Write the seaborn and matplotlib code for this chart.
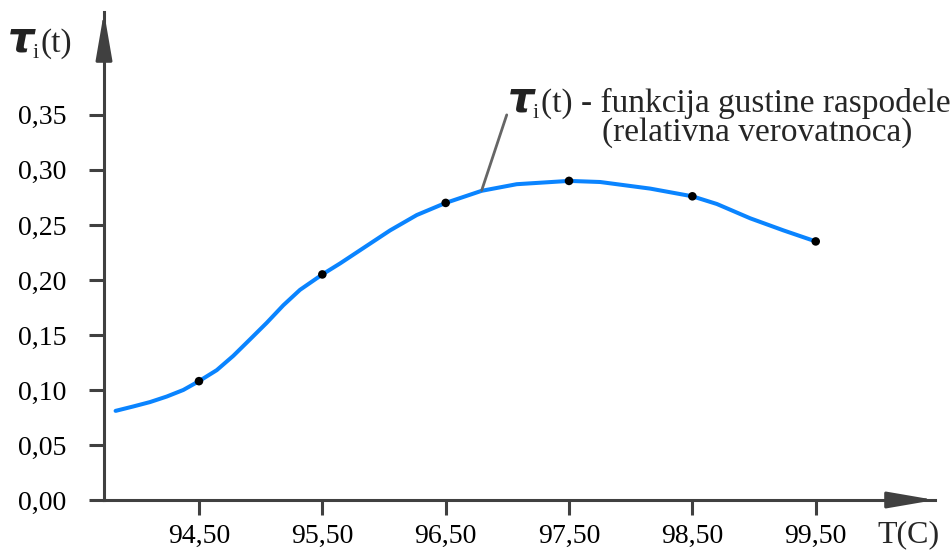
import matplotlib
matplotlib.use("Agg")
import matplotlib.pyplot as plt
import seaborn as sns

# measured points (temperature, relative probability)
temps = [94.5, 95.5, 96.5, 97.5, 98.5, 99.5]
density = [0.108, 0.205, 0.270, 0.290, 0.276, 0.235]

# smooth curve
curve_t = [93.824, 93.967, 94.103, 94.238, 94.373, 94.5, 94.644, 94.778, 94.914,
           95.049, 95.184, 95.319, 95.5, 95.644, 95.725, 96.049, 96.266, 96.5,
           96.792, 97.076, 97.5, 97.752, 98.158, 98.5, 98.699, 98.969, 99.239, 99.5]
curve_d = [0.081, 0.085, 0.089, 0.094, 0.100, 0.108, 0.118, 0.131, 0.146,
           0.161, 0.177, 0.191, 0.205, 0.215, 0.221, 0.245, 0.259, 0.270,
           0.281, 0.287, 0.290, 0.289, 0.283, 0.276, 0.269, 0.256, 0.245, 0.235]

xticks = [94.5, 95.5, 96.5, 97.5, 98.5, 99.5]
xtick_labels = ["94,50", "95,50", "96,50", "97,50", "98,50", "99,50"]
yticks = [0.0, 0.05, 0.10, 0.15, 0.20, 0.25, 0.30, 0.35]
ytick_labels = ["0,00", "0,05", "0,10", "0,15", "0,20", "0,25", "0,30", "0,35"]

sns.set_style("ticks")
plt.rcParams["font.family"] = ["Liberation Serif", "DejaVu Serif"]

axis_col = "#404040"
W, H = 951, 554
fig = plt.figure(figsize=(W / 100, H / 100), dpi=100)
ax = fig.add_axes([104 / W, 54 / H, 831 / W, 488 / H])

sns.lineplot(x=curve_t, y=curve_d, ax=ax, color="#0a84ff", lw=2.9, sort=False,
             solid_joinstyle="round", solid_capstyle="round")
sns.scatterplot(x=temps, y=density, ax=ax, color="black", s=38, edgecolor="none", zorder=5)

ax.set_xlim(93.73, 100.467)
ax.set_ylim(0, 0.4435)
ax.set_xticks(xticks)
ax.set_xticklabels(xtick_labels)
ax.set_yticks(yticks)
ax.set_yticklabels(ytick_labels)

for s in ["top", "right"]:
    ax.spines[s].set_visible(False)
for s in ["left", "bottom"]:
    ax.spines[s].set_color(axis_col)
    ax.spines[s].set_linewidth(2.2)
ax.tick_params(direction="out", length=11, width=2.2, color=axis_col,
               labelsize=20, labelcolor="black")
ax.tick_params(axis="y", pad=16)
ax.tick_params(axis="x", pad=6)

# axis arrows
arrow = dict(arrowstyle="-|>,head_length=2.9,head_width=0.5", color=axis_col,
             lw=2.2, mutation_scale=10, shrinkA=0, shrinkB=0)
ax.annotate("", xy=(1, 0), xytext=(0.95, 0), xycoords="axes fraction", arrowprops=arrow)
ax.annotate("", xy=(0, 1), xytext=(0, 0.92), xycoords="axes fraction", arrowprops=arrow)


def tau_label(x, base, rest):
    # big bold tau, small subscript i, then the rest of the text (pixel coords)
    fig.text(x / W, 1 - base / H, "\u03c4", fontsize=30, family="DejaVu Sans",
             weight="bold", style="italic", color="#222222", va="baseline")
    fig.text((x + 25) / W, 1 - (base + 6) / H, "i", fontsize=16, va="baseline")
    fig.text((x + 33) / W, 1 - base / H, rest, fontsize=24, va="baseline")


# leader line and callout
ax.plot([96.995, 96.792], [0.350, 0.2814], color="#666666", lw=2, clip_on=False)
tau_label(508, 112, "(t) - funkcija gustine raspodele")
fig.text(602 / W, 1 - 141 / H, "(relativna verovatnoca)", fontsize=24, va="baseline")

tau_label(8, 52, "(t)")
fig.text(940 / W, 1 - 535 / H, "T(C)", fontsize=23, ha="right", va="center")

fig.savefig("out.png", dpi=100)
